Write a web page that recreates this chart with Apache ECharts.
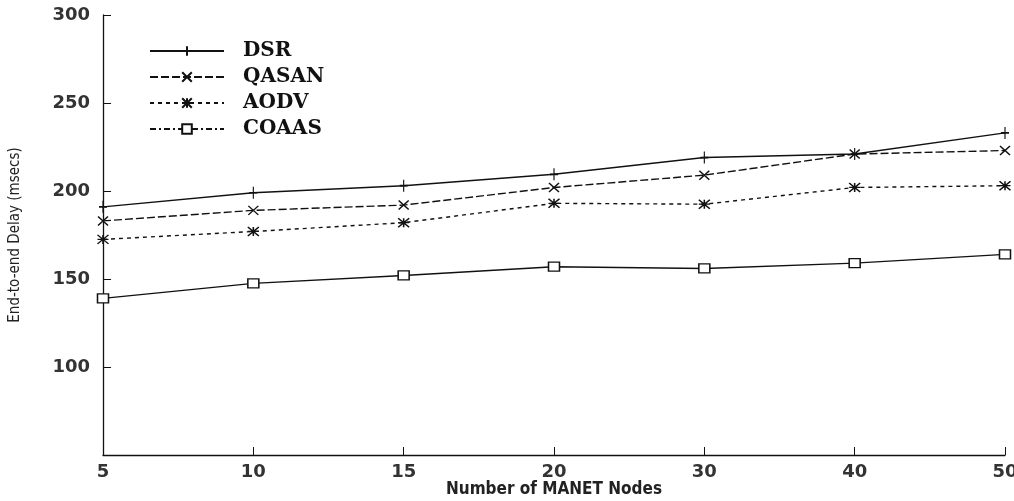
<!DOCTYPE html>
<html>
<head>
<meta charset="utf-8">
<script src="https://cdn.jsdelivr.net/npm/echarts@6/dist/echarts.min.js"></script>
<style>
html,body{margin:0;padding:0;background:#fff;}
#chart{width:1014px;height:501px;}
</style>
</head>
<body>
<div id="chart"></div>
<script>
var categories = ['5', '10', '15', '20', '30', '40', '50'];
var dsr   = [191, 199, 203, 209.5, 219, 221, 233];
var qasan = [183, 189, 192, 202, 209, 221, 223];
var aodv  = [172.5, 177, 182, 193, 192.5, 202, 203];
var coaas = [139, 147.5, 152, 157, 156, 159, 164];
var yTicks = [50, 100, 150, 200, 250, 300];

var PLUS = 'path://M5,0 L5,10 M0,5 L10,5';
var CROSS = 'path://M0,0 L10,10 M10,0 L0,10';
var STAR = 'path://M0,0 L10,10 M10,0 L0,10 M5,0 L5,10 M0,5 L10,5';

var chart = echarts.init(document.getElementById('chart'));
var labelFont = {fontFamily: 'DejaVu Sans', fontWeight: 'bold', fontSize: 18, color: '#333'};

function mk(name, data, symbol, size, dash) {
  return {
    name: name, type: 'line', data: data,
    symbol: symbol, symbolSize: size, symbolKeepAspect: false,
    showSymbol: true, animation: false,
    lineStyle: {color: '#111', width: 1.4, type: dash},
    itemStyle: {color: symbol === 'rect' ? '#fff' : '#111', borderColor: '#111', borderWidth: 1.4}
  };
}

chart.setOption({
  animation: false,
  backgroundColor: '#fff',
  grid: {left: 103, right: 9, top: 15, bottom: 46, containLabel: false, outerBoundsMode: 'none'},
  legend: {
    orient: 'vertical', left: 144, top: 36,
    itemWidth: 74, itemHeight: 12, itemGap: 6,
    textStyle: {fontFamily: 'DejaVu Serif', fontWeight: 'bold', fontSize: 20, color: '#111', lineHeight: 20, padding: [0, 0, 0, 14]},
    data: [
      {name: 'DSR'},
      {name: 'QASAN'},
      {name: 'AODV'},
      {name: 'COAAS', lineStyle: {type: [6, 3, 2, 3]}}
    ]
  },
  xAxis: {
    type: 'category', data: categories, boundaryGap: false,
    name: 'Number of MANET Nodes', nameLocation: 'middle', nameGap: 26, nameMoveOverlap: false,
    nameTextStyle: {fontFamily: 'DejaVu Sans Condensed, DejaVu Sans', fontWeight: 'bold', fontSize: 17, color: '#222'},
    axisLine: {lineStyle: {color: '#111', width: 1.3}},
    axisTick: {inside: true, length: 8, alignWithLabel: true, lineStyle: {color: '#111'}},
    axisLabel: Object.assign({margin: 8}, labelFont),
    splitLine: {show: false}
  },
  yAxis: {
    type: 'value', min: yTicks[0], max: yTicks[yTicks.length - 1], interval: 50,
    name: 'End-to-end Delay (msecs)', nameLocation: 'middle', nameGap: 80, nameMoveOverlap: false,
    nameTextStyle: {fontFamily: 'DejaVu Sans Condensed, Liberation Sans', fontSize: 15, color: '#222'},
    axisLine: {show: true, lineStyle: {color: '#111', width: 1.3}},
    axisTick: {show: true, inside: true, length: 8, lineStyle: {color: '#111'}},
    axisLabel: Object.assign({margin: 13, formatter: function (v) { return v === yTicks[0] ? '' : String(v); }}, labelFont),
    splitLine: {show: false}
  },
  series: [
    mk('DSR', dsr, PLUS, [8, 12], 'solid'),
    mk('QASAN', qasan, CROSS, [10, 9], [8, 3]),
    mk('AODV', aodv, STAR, [11, 9], [4, 4]),
    mk('COAAS', coaas, 'rect', [11, 9], 'solid')
  ]
});
</script>
</body>
</html>
